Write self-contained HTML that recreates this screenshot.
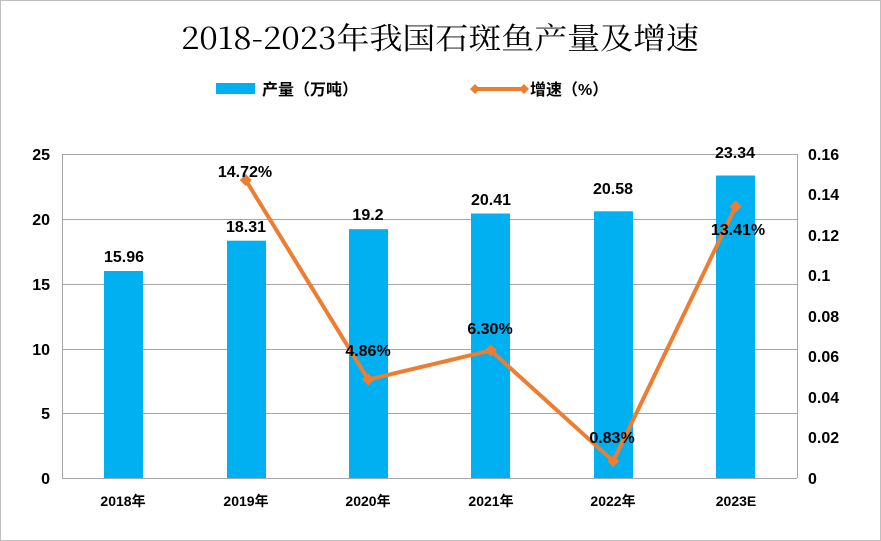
<!DOCTYPE html>
<html><head><meta charset="utf-8"><style>
body{margin:0;background:#fff}
svg{display:block}
text{font-family:"Liberation Sans","Noto Sans CJK SC",sans-serif;font-weight:bold;fill:#000}
</style></head><body>
<svg width="881" height="541" viewBox="0 0 881 541">
<rect x="0.5" y="0.5" width="880" height="540" fill="#fff" stroke="#bfbfbf"/>
<text x="440" y="49" text-anchor="middle" textLength="518" lengthAdjust="spacingAndGlyphs" style="font-family:'Noto Serif CJK SC','Liberation Serif',serif;font-weight:normal;font-size:30px">2018-2023年我国石斑鱼产量及增速</text>
<rect x="216" y="83" width="39" height="11" fill="#00b0f0"/>
<text x="262" y="95" font-size="16">产量（万吨）</text>
<line x1="475" y1="89" x2="524" y2="89" stroke="#ed7d31" stroke-width="4"/>
<polygon points="475,84 480,89 475,94 470,89" fill="#ed7d31"/>
<polygon points="524,84 529,89 524,94 519,89" fill="#ed7d31"/>
<text x="530" y="95" font-size="16">增速（%）</text>
<g stroke="#a6a6a6" stroke-width="1">
<line x1="62" y1="154.5" x2="797" y2="154.5"/>
<line x1="62" y1="219.5" x2="797" y2="219.5"/>
<line x1="62" y1="284.5" x2="797" y2="284.5"/>
<line x1="62" y1="349.5" x2="797" y2="349.5"/>
<line x1="62" y1="413.5" x2="797" y2="413.5"/>
<line x1="62" y1="478.5" x2="797" y2="478.5"/>
<line x1="62.5" y1="154" x2="62.5" y2="478"/>
<line x1="797.5" y1="154" x2="797.5" y2="478"/>
</g>
<g fill="#00b0f0">
<rect x="104" y="271" width="39" height="207"/>
<rect x="227" y="240.7" width="39" height="237.3"/>
<rect x="349" y="229.2" width="39" height="248.8"/>
<rect x="471" y="213.5" width="39" height="264.5"/>
<rect x="594" y="211.3" width="39" height="266.7"/>
<rect x="716" y="175.5" width="39" height="302.5"/>
</g>
<g font-size="16" text-anchor="end">
<text x="50" y="160">25</text><text x="50" y="225">20</text><text x="50" y="290">15</text>
<text x="50" y="355">10</text><text x="50" y="419">5</text><text x="50" y="484">0</text>
</g>
<g font-size="16">
<text x="808" y="160">0.16</text><text x="808" y="200">0.14</text><text x="808" y="241">0.12</text>
<text x="808" y="281">0.1</text><text x="808" y="322">0.08</text><text x="808" y="362">0.06</text>
<text x="808" y="403">0.04</text><text x="808" y="443">0.02</text><text x="808" y="484">0</text>
</g>
<g font-size="14" text-anchor="middle">
<text x="123" y="506">2018年</text><text x="246" y="506">2019年</text><text x="368" y="506">2020年</text>
<text x="491" y="506">2021年</text><text x="613" y="506">2022年</text><text x="736" y="506">2023E</text>
</g>
<g font-size="16" text-anchor="middle">
<text x="124" y="262">15.96</text><text x="246" y="232">18.31</text><text x="368" y="220">19.2</text>
<text x="491" y="205">20.41</text><text x="613" y="194">20.58</text><text x="735" y="158">23.34</text>
</g>
<polyline points="245.75,180.1 368.25,379.6 490.75,350.4 613.25,461.2 735.75,206.4" fill="none" stroke="#ed7d31" stroke-width="4" stroke-linejoin="round"/>
<g fill="#ed7d31">
<polygon points="245.75,174 251.75,180.1 245.75,186 239.75,180.1"/>
<polygon points="368.25,373.6 374.25,379.6 368.25,385.6 362.25,379.6"/>
<polygon points="490.75,344.4 496.75,350.4 490.75,356.4 484.75,350.4"/>
<polygon points="613.25,455.2 619.25,461.2 613.25,467.2 607.25,461.2"/>
<polygon points="735.75,200.4 741.75,206.4 735.75,212.4 729.75,206.4"/>
</g>
<g font-size="16" text-anchor="middle">
<text x="245" y="177">14.72%</text><text x="368" y="356">4.86%</text><text x="490" y="334">6.30%</text>
<text x="612" y="443">0.83%</text><text x="738" y="235">13.41%</text>
</g>
</svg>
</body></html>
